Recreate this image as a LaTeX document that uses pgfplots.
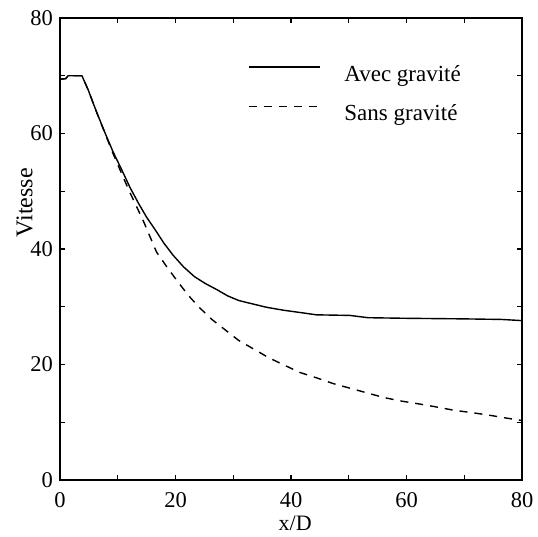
\documentclass[border=0pt]{standalone}
\usepackage{fontspec}
\setmainfont{Liberation Serif}
\usepackage{pgfplots}
\pgfplotsset{compat=1.18}

\begin{document}
\begin{tikzpicture}
\begin{axis}[
  at={(0pt,0pt)}, anchor=south west,
  width=462pt, height=462pt, scale only axis,
  xmin=0, xmax=80, ymin=0, ymax=80,
  xtick={0,20,40,60,80}, minor xtick={10,30,50,70},
  ytick={0,20,40,60,80}, minor ytick={10,30,50,70},
  tick align=inside,
  major tick length=5pt, minor tick length=5pt,
  every tick/.style={black, line width=1.2pt},
  axis line style={line width=1.5pt},
  /pgf/number format/assume math mode=true,
  tick label style={font=\fontsize{22.5}{26}\selectfont, inner sep=0pt},
  xticklabel style={yshift=-12pt},
  yticklabel style={xshift=-7pt},
  xlabel={x/D},
  xlabel style={at={(axis description cs:0.509,0)}, anchor=base, yshift=-50pt,
    font=\fontsize{22}{26}\selectfont, inner sep=0pt},
  ylabel={Vitesse},
  ylabel style={at={(axis description cs:-0.0584,0.60)}, anchor=south,
    font=\fontsize{24}{28}\selectfont, inner sep=0pt},
  legend style={draw=none, fill=none, at={(axis description cs:0.4,0.907)},
    anchor=north west, font=\fontsize{23}{27}\selectfont,
    /tikz/every odd column/.append style={column sep=22pt},
    row sep=18pt},
  legend cell align=left,
  legend image code/.code={\draw[#1] (0pt,7pt) -- (71pt,7pt);},
]
\addplot[black, line width=1.4pt] coordinates {
  (0,69.4) (1,69.5) (1.4,70.0) (3.8,70.0) (4.9,67.5) (6.3,63.8) (7.8,60.1)
  (9.2,56.8) (10.7,53.7) (12.1,50.7) (13.6,47.9) (15,45.5) (16.5,43.3)
  (18,41.0) (19.6,38.9) (21.4,36.9) (23.3,35.2) (25.2,34.0) (27.1,33.0)
  (29,31.9) (30.9,31.1) (32.9,30.6) (35.8,29.9) (38.7,29.4) (41.6,29.0)
  (44.4,28.6) (50.2,28.5) (53.4,28.1) (60,28.0) (70,27.9) (76.5,27.8) (80,27.6)
};
\addlegendentry{Avec gravité}
\addplot[black, line width=1.4pt, dash pattern=on 8pt off 7pt] coordinates {
  (0,69.4) (1,69.5) (1.4,70.0) (3.8,70.0) (4.9,67.5) (6.3,63.8) (7.8,60.0)
  (9.2,56.5) (10.7,53.0) (12,50.0) (13,47.9) (14.5,44.7) (15.6,42.1)
  (16.7,39.5) (18.5,36.9) (20.2,34.6) (22.2,32.0) (24,30.0) (26.3,27.8)
  (28.6,26.0) (30.9,24.2) (33.5,22.7) (36.1,21.2) (38.8,19.9) (41.6,18.6)
  (44.4,17.7) (47.3,16.7) (50.2,15.9) (53.1,15.1) (56,14.3) (58.9,13.7)
  (62,13.2) (64.9,12.7) (68.1,12.1) (71,11.7) (73.9,11.3) (76.8,10.8) (80,10.3)
};
\addlegendentry{Sans gravité}
\end{axis}
\pgfresetboundingbox
\path[use as bounding box] (-60pt,-56pt) rectangle (478pt,480pt);
\end{tikzpicture}
\end{document}
